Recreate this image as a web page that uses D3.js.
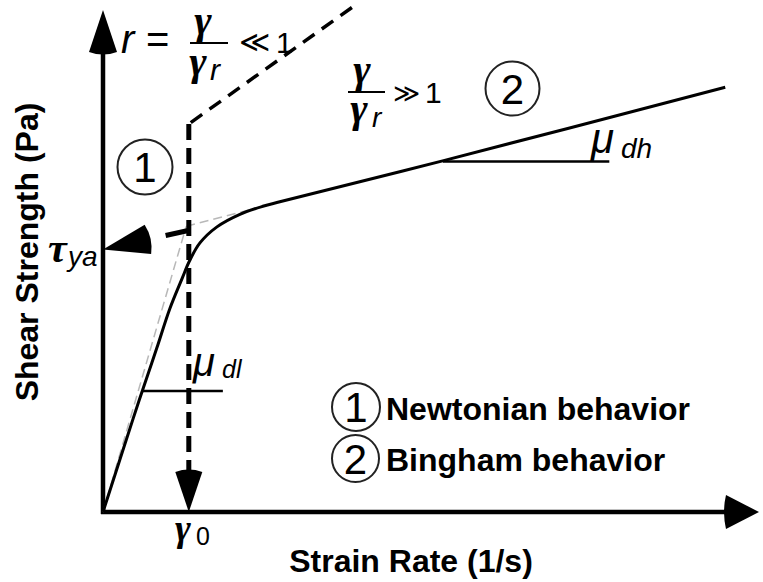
<!DOCTYPE html>
<html><head><meta charset="utf-8">
<script src="https://cdn.jsdelivr.net/npm/d3@7"></script>
<style>body{margin:0;background:#fff}svg{display:block}</style>
</head><body><svg id="c" width="763" height="582"></svg>
<script>
// ---- data (abstract units: strain rate 0..100, shear strength 0..100) ----
const curveX = [0, 4.6, 6.1, 8.2, 10.2, 12.1, 13.2, 14.8, 17.4, 20.9, 24.4, 27, 52, 95];
const curveY = [0, 18.6, 24.5, 32.6, 40.5, 46.6, 50.0, 53.6, 56.8, 59.3, 60.9, 61.8, 70.0, 84.6];
const newtonTangentX = [0, 12.7];
const newtonTangentY = [0, 56.9];
const binghamTangentX = [12.7, 27];
const binghamTangentY = [56.9, 61.8];
const muDlX = [6.1, 18.3], muDlY = [24.1, 24.1];
const muDhX = [51.9, 77.3], muDhY = [69.8, 69.8];
const gamma0 = 13.1;
const guideTopY = 77.3;
const guideDiagX = [13.1, 38.0], guideDiagY = [77.3, 100.5];
const tauYa = 52.3;
const tauArrowFromY = 56.1;
const axisLabels = ["Strain Rate (1/s)", "Shear Strength (Pa)"];
const legendItems = ["Newtonian behavior", "Bingham behavior"];

const svg = d3.select("#c");
const x = d3.scaleLinear().domain([0, 100]).range([103, 758]);
const y = d3.scaleLinear().domain([0, 100]).range([512, 10]);

function arrow(tip, from, len, wid) {
  const dx = from[0]-tip[0], dy = from[1]-tip[1];
  const L = Math.hypot(dx, dy), ux = dx/L, uy = dy/L, px = -uy, py = ux;
  const bx = tip[0]+ux*len, by = tip[1]+uy*len;
  const a = [bx+px*wid/2, by+py*wid/2], b = [bx-px*wid/2, by-py*wid/2];
  const c = [tip[0]+ux*len*1.12, tip[1]+uy*len*1.12];
  svg.append("path").attr("d", `M${tip}L${a}Q${c} ${b}Z`).attr("fill", "#000");
}

// axes
const gx = svg.append("g").attr("transform", `translate(0,${y(0)})`)
  .call(d3.axisBottom(x).tickValues([]).tickSizeOuter(0));
gx.select(".domain").attr("stroke", "#000").attr("stroke-width", 4.5).attr("d", `M${x(0)-2},0H${x(100)-20}`);
const gy = svg.append("g").attr("transform", `translate(${x(0)},0)`)
  .call(d3.axisLeft(y).tickValues([]).tickSizeOuter(0));
gy.select(".domain").attr("stroke", "#000").attr("stroke-width", 4.5).attr("d", `M0,${y(0)+2}V${y(100)+25}`);
arrow([x(100)+1, y(0)], [x(0), y(0)], 33, 34);
arrow([x(0), y(100)], [x(0), y(0)], 42, 28);

const line = d3.line().x(d => x(d[0])).y(d => y(d[1]));

// grey tangents
svg.append("path").datum(newtonTangentX.map((v,i)=>[v,newtonTangentY[i]])).attr("d", line)
  .attr("fill","none").attr("stroke","#b8b8b8").attr("stroke-width",1.5).attr("stroke-dasharray","9,5");
svg.append("path").datum(binghamTangentX.map((v,i)=>[v,binghamTangentY[i]])).attr("d", line)
  .attr("fill","none").attr("stroke","#b8b8b8").attr("stroke-width",1.5).attr("stroke-dasharray","9,5");

// guide dashed lines
svg.append("path").datum([[guideDiagX[1],guideDiagY[1]],[guideDiagX[0],guideDiagY[0]]]).attr("d", line)
  .attr("fill","none").attr("stroke","#000").attr("stroke-width",3.5).attr("stroke-dasharray","14,9");
svg.append("path").datum([[gamma0, guideTopY],[gamma0, 8]]).attr("d", line)
  .attr("fill","none").attr("stroke","#000").attr("stroke-width",5).attr("stroke-dasharray","16,8");
arrow([x(gamma0), y(0)], [x(gamma0), y(guideTopY)], 40, 27);

// tau_ya arrow
const tFrom = [x(gamma0), y(tauArrowFromY)], tTip = [x(0), y(tauYa)];
const tdx = tTip[0]-tFrom[0], tdy = tTip[1]-tFrom[1];
svg.append("line").attr("x1", tFrom[0]-tdx*0.02).attr("y1", tFrom[1]-tdy*0.02)
  .attr("x2", tFrom[0]+tdx*0.27).attr("y2", tFrom[1]+tdy*0.27)
  .attr("stroke","#000").attr("stroke-width",5);
arrow(tTip, tFrom, 46, 30);

// main curve
svg.append("path").datum(curveX.map((v,i)=>[v,curveY[i]]))
  .attr("d", d3.line().x(d=>x(d[0])).y(d=>y(d[1])).curve(d3.curveCatmullRom.alpha(0.5)))
  .attr("fill","none").attr("stroke","#000").attr("stroke-width",3);

// slope markers
[[muDlX,muDlY],[muDhX,muDhY]].forEach(([a,b]) => {
  svg.append("path").datum(a.map((v,i)=>[v,b[i]])).attr("d", line)
    .attr("stroke","#000").attr("stroke-width",2.5);
});

// texts
const T = (txt, px, py, size, opts={}) => svg.append("text").attr("x",px).attr("y",py)
  .attr("font-size",size).attr("font-family",opts.ff||"Liberation Sans, Arial, sans-serif")
  .attr("font-style",opts.it?"italic":"normal").attr("font-weight",opts.b?"bold":"normal")
  .attr("text-anchor",opts.anchor||"start").attr("fill","#000").text(txt);
const serif = "Liberation Serif, Times New Roman, serif";
const dv = "DejaVu Sans, sans-serif";

// top equation
T("r", 121, 53, 40, {it:true});
T("=", 146, 53, 40);
T("γ", 203, 34, 42, {it:true, b:true, ff:serif, anchor:"middle"});
svg.append("line").attr("x1",190).attr("x2",228).attr("y1",43).attr("y2",43).attr("stroke","#000").attr("stroke-width",2);
T("γ", 198, 75, 42, {it:true, b:true, ff:serif, anchor:"middle"});
T("r", 210, 80, 30, {it:true});
T("≪", 239, 52, 30, {ff:dv});
T("1", 276, 53, 30);

// second equation
T("γ", 362, 83, 42, {it:true, b:true, ff:serif, anchor:"middle"});
svg.append("line").attr("x1",348).attr("x2",385).attr("y1",92).attr("y2",92).attr("stroke","#000").attr("stroke-width",2);
T("γ", 359, 122, 42, {it:true, b:true, ff:serif, anchor:"middle"});
T("r", 372, 127, 28, {it:true});
T("≫", 393, 102, 26, {ff:dv});
T("1", 425, 103, 30);

// circled numbers
const circ = (cx, cy, r, d, fs) => {
  svg.append("circle").attr("cx",cx).attr("cy",cy).attr("r",r).attr("fill","none").attr("stroke","#222").attr("stroke-width",2);
  T(d, cx, cy + fs*0.358, fs, {anchor:"middle"});
};
circ(512.5, 88.5, 27, "2", 42);
circ(145, 167, 27.5, "1", 42);
circ(356, 407, 24, "1", 42);
circ(355.5, 458.5, 23.5, "2", 42);
T(legendItems[0], 386, 420, 32, {b:true});
T(legendItems[1], 386, 471, 32, {b:true});

// tau_ya
T("τ", 48, 262, 42, {it:true, b:true, ff:serif});
T("ya", 68, 266, 28, {it:true});
// mu labels
T("μ", 193, 376, 40, {it:true});
T("dl", 222, 378, 25, {it:true});
T("μ", 591, 153, 42, {it:true});
T("dh", 621, 158, 28, {it:true});
// gamma0
T("γ", 183, 541, 38, {it:true, b:true, ff:serif, anchor:"middle"});
T("0", 196, 545, 25);

// axis labels
T(axisLabels[0], 411, 572, 32, {b:true, anchor:"middle"});
svg.append("text").attr("transform","translate(38,252) rotate(-90)").attr("text-anchor","middle")
  .attr("font-size",32).attr("font-weight","bold").attr("font-family","Liberation Sans, Arial, sans-serif")
  .text(axisLabels[1]);
</script></body></html>
